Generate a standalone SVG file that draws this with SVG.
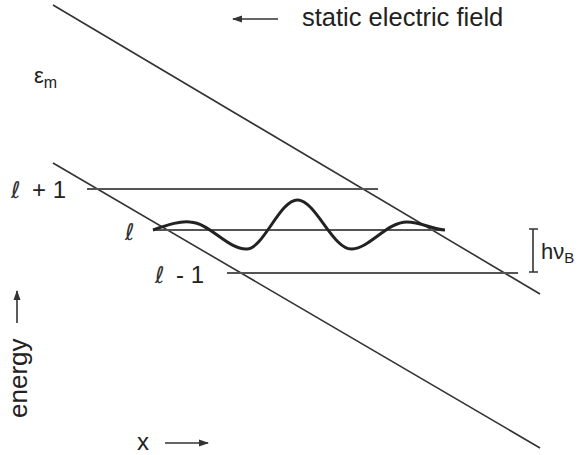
<svg xmlns="http://www.w3.org/2000/svg" width="582" height="455" viewBox="0 0 582 455">
<defs>
<marker id="ah" markerWidth="10" markerHeight="8" refX="9" refY="4" orient="auto" markerUnits="userSpaceOnUse">
<path d="M0,0.5 L10,4 L0,7.5 Z" fill="#333"/>
</marker>
<style>
.t{font-family:"Liberation Sans",Arial,sans-serif;fill:#222}
.s{font-family:"DejaVu Sans","Liberation Serif",serif;fill:#333}
.diag{stroke:#333;stroke-width:1.6;fill:none}
.lvl{stroke:#555;stroke-width:2;fill:none}
.arr{stroke:#333;stroke-width:1.6;fill:none;marker-end:url(#ah)}
</style>
</defs>
<rect width="582" height="455" fill="#fff"/>
<g id="potential">
<line class="diag" x1="53" y1="5" x2="540" y2="294"/>
<line class="diag" x1="53" y1="163" x2="540" y2="448"/>
</g>
<g id="levels">
<line class="lvl" x1="87" y1="189" x2="378" y2="189"/>
<line class="lvl" x1="153" y1="230" x2="445" y2="230"/>
<line class="lvl" x1="227" y1="273" x2="518" y2="273"/>
</g>
<g id="wave">
<path d="M153,230 C170,224 180,221 190,222 C210,223 228,250 247,249 C264,248 280,199 298,200 C316,201 333,250 352,249 C370,248 387,222 407,222 C421,222 431,229 445,230" stroke="#222" stroke-width="3" fill="none"/>
</g>
<g id="connectors">
<line class="arr" x1="278" y1="19" x2="233" y2="19"/>
<line class="arr" x1="17" y1="323" x2="17" y2="291"/>
<line class="arr" x1="165" y1="443" x2="208" y2="443"/>
</g>
<g id="bracket">
<path d="M533,229 V272 M529,229 H538 M529,272 H538" stroke="#333" stroke-width="1.6" fill="none"/>
</g>
<g id="labels">
<text class="t" x="302" y="26" font-size="25.5">static electric field</text>
<text class="t" x="34" y="83" font-size="22">ε<tspan font-size="16" dy="5">m</tspan></text>
<text class="s" x="11" y="198" font-size="23" font-style="italic">ℓ</text>
<text class="t" x="32" y="198" font-size="24">+ 1</text>
<text class="s" x="125" y="240" font-size="23" font-style="italic">ℓ</text>
<text class="s" x="155" y="283" font-size="23" font-style="italic">ℓ</text>
<text class="t" x="176" y="283" font-size="24">- 1</text>
<text class="t" x="541" y="259" font-size="22">hν<tspan font-size="15" dy="4">B</tspan></text>
<text class="t" transform="translate(27,418) rotate(-90)" font-size="26">energy</text>
<text class="t" x="137" y="450" font-size="24">x</text>
</g>
</svg>
